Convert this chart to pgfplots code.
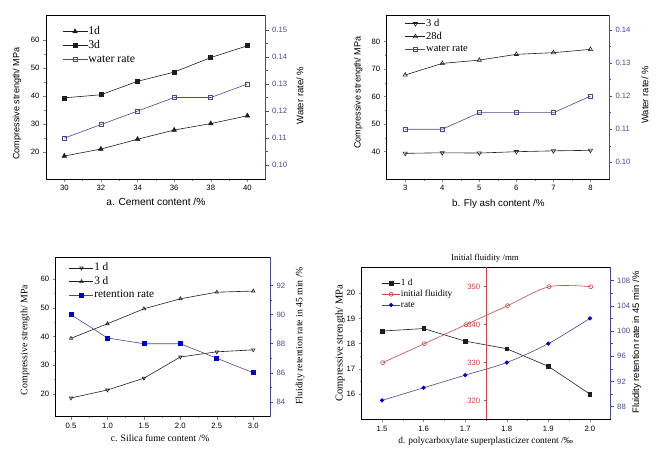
\documentclass[border=0pt]{standalone}
\usepackage{fontspec}
\setmainfont{Liberation Serif}
\setsansfont{Liberation Sans}
\usepackage{pgfplots}
\pgfplotsset{compat=1.18}

\definecolor{rc}{RGB}{72,72,150}
\definecolor{redc}{RGB}{200,70,70}
\definecolor{bluem}{RGB}{0,0,200}
\definecolor{lc}{RGB}{30,30,30}

\pgfplotsset{
 base/.style={scale only axis, anchor=south west, tick align=outside,
   major tick length=3pt, minor tick length=1.8pt, minor tick num=1,
   axis line style={line width=0.6pt}, tick style={line width=0.5pt},
   /pgf/number format/assume math mode=true,
   tick label style={font=\sffamily\fontsize{7.7}{8}\selectfont},
   every axis plot/.append style={line width=0.6pt}, clip=false},
 leftax/.style={base, xtick pos=bottom, ytick pos=left},
 rightax/.style={base, hide x axis, axis y line*=right,
   axis line style={draw=rc}, tick style={draw=rc}, tick label style={text=rc}},
 leg/.style={legend image code/.code={\draw[mark repeat=2,mark phase=2,##1] plot coordinates {(0pt,0pt) (#1/2,0pt) (#1,0pt)};},
   legend style={draw=none, fill=none, anchor=north west, inner sep=0pt, legend cell align=left}},
 ylab/.style n args={3}{every axis y label/.style={at={(axis description cs:#1,#2)}, rotate=90, anchor=center, font=#3}},
 xlab/.style n args={3}{every axis x label/.style={at={(axis description cs:#1,#2)}, anchor=center, font=#3}},
}
\newcommand\SF[1]{\sffamily\fontsize{#1}{#1}\selectfont}
\newcommand\RM[1]{\rmfamily\fontsize{#1}{#1}\selectfont}

\begin{document}
\begin{tikzpicture}
\useasboundingbox (0,0) rectangle (670pt,450pt);

% ---------------- Panel a ----------------
\begin{axis}[leftax, at={(46pt,271pt)}, width=219.7pt, height=164pt,
  xmin=29, xmax=41, ymin=10.4, ymax=69,
  xtick={30,32,34,36,38,40}, ytick={20,30,40,50,60},
  xlabel={a. Cement content /\%}, ylabel={Compressive strength/ MPa},
  xlab={0.5}{-0.14}{\SF{10.2}}, ylab={-0.132}{0.46}{\SF{9.1}},
  leg=25pt, legend style={at={(axis description cs:0.073,0.935)},
    font=\RM{11.8}, row sep=2.6pt,
    nodes={inner sep=0.5pt, text height=7.8pt, text depth=2.6pt}}]
\addplot[lc, mark=triangle*, mark size=2.6pt] coordinates {(30,18.6)(32,21.1)(34,24.6)(36,27.9)(38,30.2)(40,33.0)};
\addplot[lc, mark=square*, mark size=2pt] coordinates {(30,39.4)(32,40.5)(34,45.3)(36,48.6)(38,53.8)(40,58.0)};
\addlegendimage{rc, mark=square, mark size=2pt, mark options={fill=white}}
\legend{1d,3d,water rate}
\end{axis}
\begin{axis}[rightax, at={(46pt,271pt)}, width=219.7pt, height=164pt,
  xmin=29, xmax=41, ymin=0.0949, ymax=0.1555,
  ytick={0.10,0.11,0.12,0.13,0.14,0.15},
  yticklabel style={/pgf/number format/.cd, fixed, fixed zerofill, precision=2},
  ylabel={Water rate/ \%}, ylab={1.156}{0.508}{\SF{9.5}}]
\addplot[rc, mark=square, mark size=2pt, mark options={fill=white}] coordinates {(30,0.110)(32,0.115)(34,0.120)(36,0.125)(38,0.125)(40,0.130)};
\end{axis}

% ---------------- Panel b ----------------
\begin{axis}[leftax, at={(386.7pt,271pt)}, width=222.3pt, height=164pt,
  xmin=2.5, xmax=8.5, ymin=30.07, ymax=89.7,
  xtick={3,4,5,6,7,8}, ytick={40,50,60,70,80},
  xlabel={b. Fly ash content /\%}, ylabel={Compressive strength/ MPa},
  xlab={0.502}{-0.152}{\SF{9.8}}, ylab={-0.128}{0.527}{\SF{9.1}},
  leg=20pt, legend style={at={(axis description cs:0.082,0.98)},
    font=\RM{10.5}, row sep=2.4pt,
    nodes={inner sep=0.5pt, text height=7.2pt, text depth=2.3pt}}]
\addplot[lc, mark=triangle, mark size=2.4pt, mark options={rotate=180, fill=white}] coordinates {(3,39.4)(4,39.6)(5,39.5)(6,40.0)(7,40.3)(8,40.5)};
\addplot[lc, mark=triangle, mark size=2.4pt, mark options={fill=white}] coordinates {(3,67.9)(4,72.1)(5,73.3)(6,75.4)(7,76.0)(8,77.2)};
\addlegendimage{rc, mark=square, mark size=2pt, mark options={fill=white}}
\legend{3 d,28d,water rate}
\end{axis}
\begin{axis}[rightax, at={(386.7pt,271pt)}, width=222.3pt, height=164pt,
  xmin=2.5, xmax=8.5, ymin=0.09495, ymax=0.14453,
  ytick={0.10,0.11,0.12,0.13,0.14},
  yticklabel style={/pgf/number format/.cd, fixed, fixed zerofill, precision=2},
  ylabel={Water rate/ \%}, ylab={1.162}{0.512}{\SF{9.5}}]
\addplot[rc, mark=square, mark size=2pt, mark options={fill=white}] coordinates {(3,0.110)(4,0.110)(5,0.115)(6,0.115)(7,0.115)(8,0.120)};
\end{axis}

% ---------------- Panel c ----------------
\begin{axis}[leftax, at={(55.7pt,33.3pt)}, width=214.3pt, height=159.4pt,
  xmin=0.29, xmax=3.23, ymin=12.08, ymax=67.67,
  xtick={0.5,1.0,1.5,2.0,2.5,3.0}, ytick={20,30,40,50,60},
  xticklabel style={/pgf/number format/.cd, fixed, fixed zerofill, precision=1},
  xlabel={c. Silica fume content /\%}, ylabel={Compressive strength/ MPa},
  xlab={0.487}{-0.136}{\RM{9.7}}, ylab={-0.143}{0.481}{\RM{9.9}},
  leg=24pt, legend style={at={(axis description cs:0.062,0.969)},
    font=\RM{11.3}, row sep=2.5pt,
    nodes={inner sep=0.5pt, text height=7.6pt, text depth=2.5pt}}]
\addplot[lc, mark=triangle, mark size=2pt, mark options={rotate=180, fill=white}] coordinates {(0.5,18.6)(1.0,21.4)(1.5,25.5)(2.0,32.9)(2.5,34.7)(3.0,35.4)};
\addplot[lc, mark=triangle, mark size=2pt, mark options={fill=white}] coordinates {(0.5,39.4)(1.0,44.5)(1.5,49.7)(2.0,53.2)(2.5,55.5)(3.0,55.9)};
\addlegendimage{rc, mark=square*, mark size=2pt, mark options={draw=bluem, fill=bluem}}
\legend{1 d,3 d,retention rate}
\end{axis}
\begin{axis}[rightax, at={(55.7pt,33.3pt)}, width=214.3pt, height=159.4pt,
  xmin=0.29, xmax=3.23, ymin=82.97, ymax=93.96,
  ytick={84,86,88,90,92},
  ylabel={Fluidity retention rate in 45 min /\%}, ylab={1.14}{0.507}{\RM{9.7}}]
\addplot[rc, mark=square*, mark size=2pt, mark options={draw=bluem, fill=bluem}] coordinates {(0.5,90.0)(1.0,88.4)(1.5,88.0)(2.0,88.0)(2.5,87.0)(3.0,86.0)};
\end{axis}

% ---------------- Panel d ----------------
\begin{axis}[leftax, at={(361.7pt,30.7pt)}, width=249pt, height=152pt,
  xmin=1.451, xmax=2.05, ymin=15.0, ymax=21.03,
  xtick={1.5,1.6,1.7,1.8,1.9,2.0}, ytick={16,17,18,19,20},
  xticklabel style={/pgf/number format/.cd, fixed, fixed zerofill, precision=1},
  xlabel={d. polycarboxylate superplasticizer content /‰}, ylabel={Compressive strength/ MPa},
  xlab={0.498}{-0.147}{\RM{9.3}}, ylab={-0.087}{0.5}{\RM{10.5}},
  leg=18pt, legend style={at={(axis description cs:0.08,0.925)},
    font=\RM{9.3}, row sep=1.4pt,
    nodes={inner sep=0.5pt, text height=6.3pt, text depth=2pt}}]
\addplot[lc, mark=square*, mark size=1.8pt] coordinates {(1.5,18.5)(1.6,18.6)(1.7,18.1)(1.8,17.8)(1.9,17.1)(2.0,16.0)};
\addlegendimage{redc, mark=o, mark size=2pt, mark options={fill=white}}
\addlegendimage{rc, mark=*, mark size=1.8pt, mark options={draw=bluem, fill=bluem}}
\legend{1 d,initial fluidity,rate}
\end{axis}
\begin{axis}[rightax, at={(361.7pt,30.7pt)}, width=249pt, height=152pt,
  xmin=1.451, xmax=2.05, ymin=86, ymax=110.1,
  ytick={88,92,96,100,104,108},
  ylabel={Fluidity retention rate in 45 min /\%}, ylab={1.104}{0.505}{\SF{9.4}}]
\addplot[rc, smooth, mark=*, mark size=1.8pt, mark options={draw=bluem, fill=bluem}] coordinates {(1.5,89)(1.6,91)(1.7,93)(1.8,95)(1.9,98)(2.0,102)};
\end{axis}
\begin{axis}[base, at={(486.7pt,30.7pt)}, width=124pt, height=152pt,
  hide x axis, axis y line*=left, minor tick num=0,
  axis line style={draw=redc}, tick style={draw=redc}, tick label style={text=redc},
  xmin=1.75, xmax=2.048, ymin=315.1, ymax=355.1,
  ytick={320,330,340,350}]
\addplot[redc, smooth, mark=o, mark size=2pt, mark options={fill=white}] coordinates {(1.5,330)(1.6,335)(1.7,340)(1.8,345)(1.9,350)(2.0,350)};
\node[font=\RM{8.8}, anchor=center] at (axis description cs:-0.014,1.059) {Initial fluidity /mm};
\end{axis}
\end{tikzpicture}
\end{document}
